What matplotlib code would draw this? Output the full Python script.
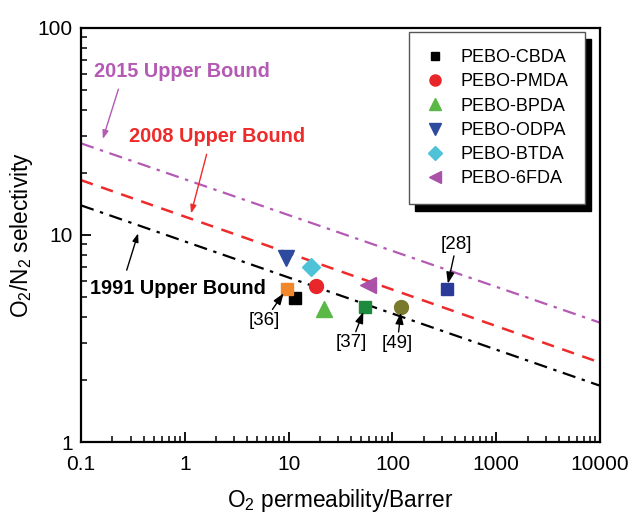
import matplotlib
matplotlib.use("Agg")
import matplotlib.pyplot as plt

plt.rcParams['font.family'] = ['Liberation Sans', 'DejaVu Sans']
plt.rcParams['mathtext.fontset'] = 'custom'
plt.rcParams['mathtext.rm'] = 'Liberation Sans'
plt.rcParams['mathtext.it'] = 'Liberation Sans:italic'

# polymers from this work
names = ['PEBO-CBDA', 'PEBO-PMDA', 'PEBO-BPDA', 'PEBO-ODPA', 'PEBO-BTDA', 'PEBO-6FDA']
perm = [11.5, 18.4, 21.9, 9.4, 16.4, 58.6]
select = [4.98, 5.67, 4.38, 7.7, 6.98, 5.71]
markers = ['s', 'o', '^', 'v', 'D', '<']
colors = ['#000000', '#e8262a', '#5ab946', '#2e4a9e', '#4ec3d8', '#a952a8']
msizes = [8, 10, 11, 11, 9, 11]

# literature points
ref_labels = ['[36]', '[37]', '[49]', '[28]']
ref_perm = [9.6, 54.8, 122, 333]
ref_select = [5.5, 4.5, 4.48, 5.48]
ref_markers = ['s', 's', 'o', 's']
ref_colors = ['#f2862a', '#1e8a3e', '#7a7a2e', '#2b3a99']
ref_offsets = [(-16, -23), (-10, -26), (-3, -26), (7, 32)]

# upper bounds (straight lines on log-log)
bound_x = [0.1, 10000]
ub1991 = [13.9, 1.87]
ub2008 = [18.4, 2.42]
ub2015 = [27.7, 3.77]

fig = plt.figure(figsize=(6.33, 5.17), dpi=100)
ax = fig.add_axes([0.128, 0.145, 0.820, 0.801])

ax.plot(bound_x, ub1991, color='black', ls=(0, (6, 3, 1.5, 3)), lw=1.6)
ax.plot(bound_x, ub2008, color='#ee2b2b', ls=(0, (5, 3.5)), lw=1.8)
ax.plot(bound_x, ub2015, color='#b45ab4', ls=(0, (6, 3, 1.5, 3)), lw=1.6)

for x, y, m, c, l, s in zip(perm, select, markers, colors, names, msizes):
    ax.plot(x, y, ls='none', marker=m, color=c, ms=s, mec=c, label=l)

for x, y, m, c, l, off in zip(ref_perm, ref_select, ref_markers, ref_colors, ref_labels, ref_offsets):
    ax.plot(x, y, ls='none', marker=m, color=c, ms=10 if m == 'o' else 9, mec=c)
    ax.annotate(l, xy=(x, y), xytext=off, textcoords='offset points',
                ha='center', va='center', fontsize=13.5,
                arrowprops=dict(arrowstyle='-|>,head_width=0.18,head_length=0.5',
                                color='black', lw=1, shrinkA=0, shrinkB=4))

ax.set_xscale('log')
ax.set_yscale('log')
ax.set_xlim(0.1, 10000)
ax.set_ylim(1, 100)
ax.set_xticks([0.1, 1, 10, 100, 1000, 10000], ['0.1', '1', '10', '100', '1000', '10000'])
ax.set_yticks([1, 10, 100], ['1', '10', '100'])
ax.tick_params(which='both', direction='in', top=False, right=False, labelsize=15)
ax.tick_params(axis='x', which='major', pad=9)
ax.tick_params(axis='y', which='major', pad=6)
ax.tick_params(which='major', length=7, width=1.3)
ax.tick_params(which='minor', length=4, width=1.1)
for sp in ax.spines.values():
    sp.set_linewidth(1.6)

ax.set_xlabel(r'O$_2$ permeability/Barrer', fontsize=16.3, labelpad=10)
ax.set_ylabel(r'O$_2$/N$_2$ selectivity', fontsize=16.3, labelpad=2)

# upper bound labels with arrows
ax.text(0.025, 0.894, '2015 Upper Bound', transform=ax.transAxes, color='#b45ab4',
        fontsize=14.3, fontweight='bold', va='center')
ax.text(0.093, 0.738, '2008 Upper Bound', transform=ax.transAxes, color='#ee2b2b',
        fontsize=14.3, fontweight='bold', va='center')
ax.text(0.017, 0.371, '1991 Upper Bound', transform=ax.transAxes, color='black',
        fontsize=14.3, fontweight='bold', va='center')
arr = dict(arrowstyle='-|>,head_width=0.18,head_length=0.5', lw=1, shrinkA=0, shrinkB=0)
ax.annotate('', xy=(0.042, 0.732), xytext=(0.072, 0.852), xycoords='axes fraction',
            arrowprops=dict(arr, color='#b45ab4'))
ax.annotate('', xy=(0.212, 0.552), xytext=(0.242, 0.695), xycoords='axes fraction',
            arrowprops=dict(arr, color='#ee2b2b'))
ax.annotate('', xy=(0.110, 0.504), xytext=(0.088, 0.415), xycoords='axes fraction',
            arrowprops=dict(arr, color='black'))

leg = ax.legend(loc='upper right', bbox_to_anchor=(0.971, 0.99), fontsize=13,
                frameon=True, fancybox=False, borderaxespad=0, handletextpad=0.9,
                labelspacing=0.4, borderpad=0.95, handlelength=1.0, markerscale=0.8,
                shadow={'color': 'black', 'alpha': 1, 'ox': 4.5, 'oy': -5})
leg.get_frame().set_edgecolor('#555555')
leg.get_frame().set_linewidth(1.0)

fig.savefig('out.png', dpi=100)
